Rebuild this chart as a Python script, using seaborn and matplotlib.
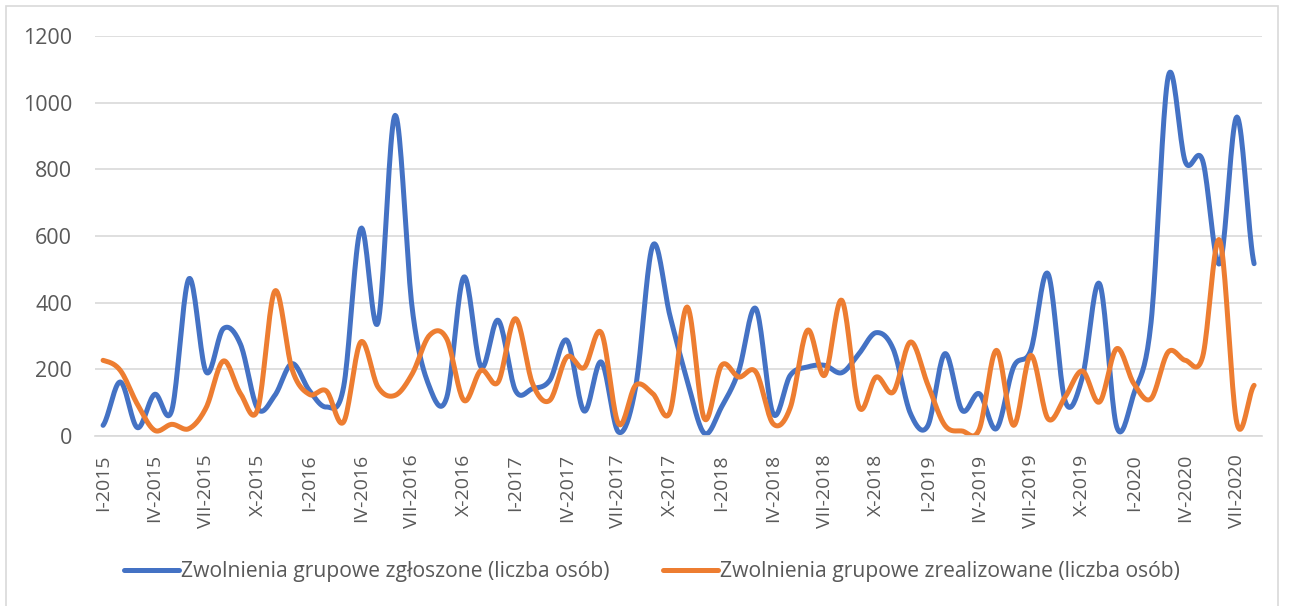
import numpy as np
import pandas as pd
import matplotlib
matplotlib.use("Agg")
import matplotlib.pyplot as plt
from matplotlib.lines import Line2D
from matplotlib.patches import Rectangle
import seaborn as sns

roman = ["I", "II", "III", "IV", "V", "VI", "VII", "VIII", "IX", "X", "XI", "XII"]
months = [f"{roman[m]}-{y}" for y in range(2015, 2021) for m in range(12)][:68]

zgloszone = [32, 162, 25, 125, 77, 472, 192, 322, 275, 82, 122, 217,
             137, 87, 147, 622, 340, 962, 380, 147, 115, 477, 207, 347,
             137, 142, 167, 287, 75, 222, 12, 147, 572, 360, 167, 8,
             87, 195, 382, 67, 182, 207, 212, 190, 247, 310, 260, 67,
             30, 247, 77, 127, 22, 207, 257, 487, 105, 175, 457, 28,
             127, 340, 1078, 822, 827, 517, 957, 517]
zrealizowane = [227, 197, 95, 17, 35, 22, 85, 225, 127, 80, 435, 200,
                125, 135, 42, 282, 147, 122, 187, 302, 292, 107, 197, 162,
                352, 157, 107, 237, 205, 310, 37, 152, 127, 72, 387, 52,
                212, 177, 192, 37, 85, 317, 182, 407, 87, 177, 132, 282,
                155, 32, 15, 20, 257, 32, 242, 52, 117, 195, 102, 262,
                157, 112, 252, 227, 237, 587, 38, 152]

labels = ["Zwolnienia grupowe zgłoszone (liczba osób)",
          "Zwolnienia grupowe zrealizowane (liczba osób)"]
colors = ["#4472C4", "#ED7D31"]


def smooth(y, n=20):
    y = np.asarray(y, float)
    p = np.concatenate([[y[0]], y, [y[-1]]])
    xs, ys = [], []
    t = np.linspace(0, 1, n, endpoint=False)
    for i in range(len(y) - 1):
        p0, p1, p2, p3 = p[i], p[i + 1], p[i + 2], p[i + 3]
        seg = 0.5 * ((2 * p1) + (-p0 + p2) * t + (2 * p0 - 5 * p1 + 4 * p2 - p3) * t ** 2
                     + (-p0 + 3 * p1 - 3 * p2 + p3) * t ** 3)
        xs.append(i + t)
        ys.append(seg)
    xs.append([len(y) - 1])
    ys.append([y[-1]])
    return np.concatenate(xs), np.concatenate(ys)


frames = []
for lab, vals in zip(labels, [zgloszone, zrealizowane]):
    xs, ys = smooth(vals)
    frames.append(pd.DataFrame({"x": xs, "y": ys, "series": lab}))
df = pd.concat(frames, ignore_index=True)

sns.set_theme(style="white")
plt.rcParams["font.family"] = ["Open Sans", "DejaVu Sans"]

fig = plt.figure(figsize=(12.9, 6.06), dpi=100)
ax = fig.add_axes([95 / 1290, 1 - 436 / 606, (1262 - 95) / 1290, 400 / 606])

sns.lineplot(data=df, x="x", y="y", hue="series", palette=colors, ax=ax,
             linewidth=3.6, legend=False, sort=False, estimator=None)

ax.set_xlim(-0.47, 67.46)
ax.set_ylim(0, 1200)
ax.set_yticks(range(0, 1201, 200))
ax.set_xticks(range(0, 68, 3))
ax.set_xticklabels([months[i] for i in range(0, 68, 3)], rotation=90)
ax.tick_params(axis="y", labelsize=15.5, colors="#595959", length=0, pad=16.5)
ax.tick_params(axis="x", labelsize=14, colors="#595959", length=0, pad=13)
ax.set_xlabel("")
ax.set_ylabel("")
ax.grid(axis="y", color="#d9d9d9", linewidth=1.2)
ax.set_axisbelow(True)
for s in ["top", "right", "left"]:
    ax.spines[s].set_visible(False)
ax.spines["bottom"].set_color("#d9d9d9")
ax.spines["bottom"].set_linewidth(1.2)

handles = [Line2D([0], [0], color=c, linewidth=3.6, solid_capstyle="round") for c in colors]
fig.legend(handles, labels, loc="center", bbox_to_anchor=(652 / 1290, 1 - 572 / 606),
           ncol=2, frameon=False, fontsize=15.2, handlelength=2.6,
           handletextpad=0.1, columnspacing=2.5, labelcolor="#595959")

fig.patches.append(Rectangle((6 / 1290, -0.01), (1278 - 6) / 1290, 1 - 6 / 606 + 0.01,
                             transform=fig.transFigure, fill=False,
                             edgecolor="#d9d9d9", linewidth=1.2))

fig.savefig("out.png", dpi=100)
